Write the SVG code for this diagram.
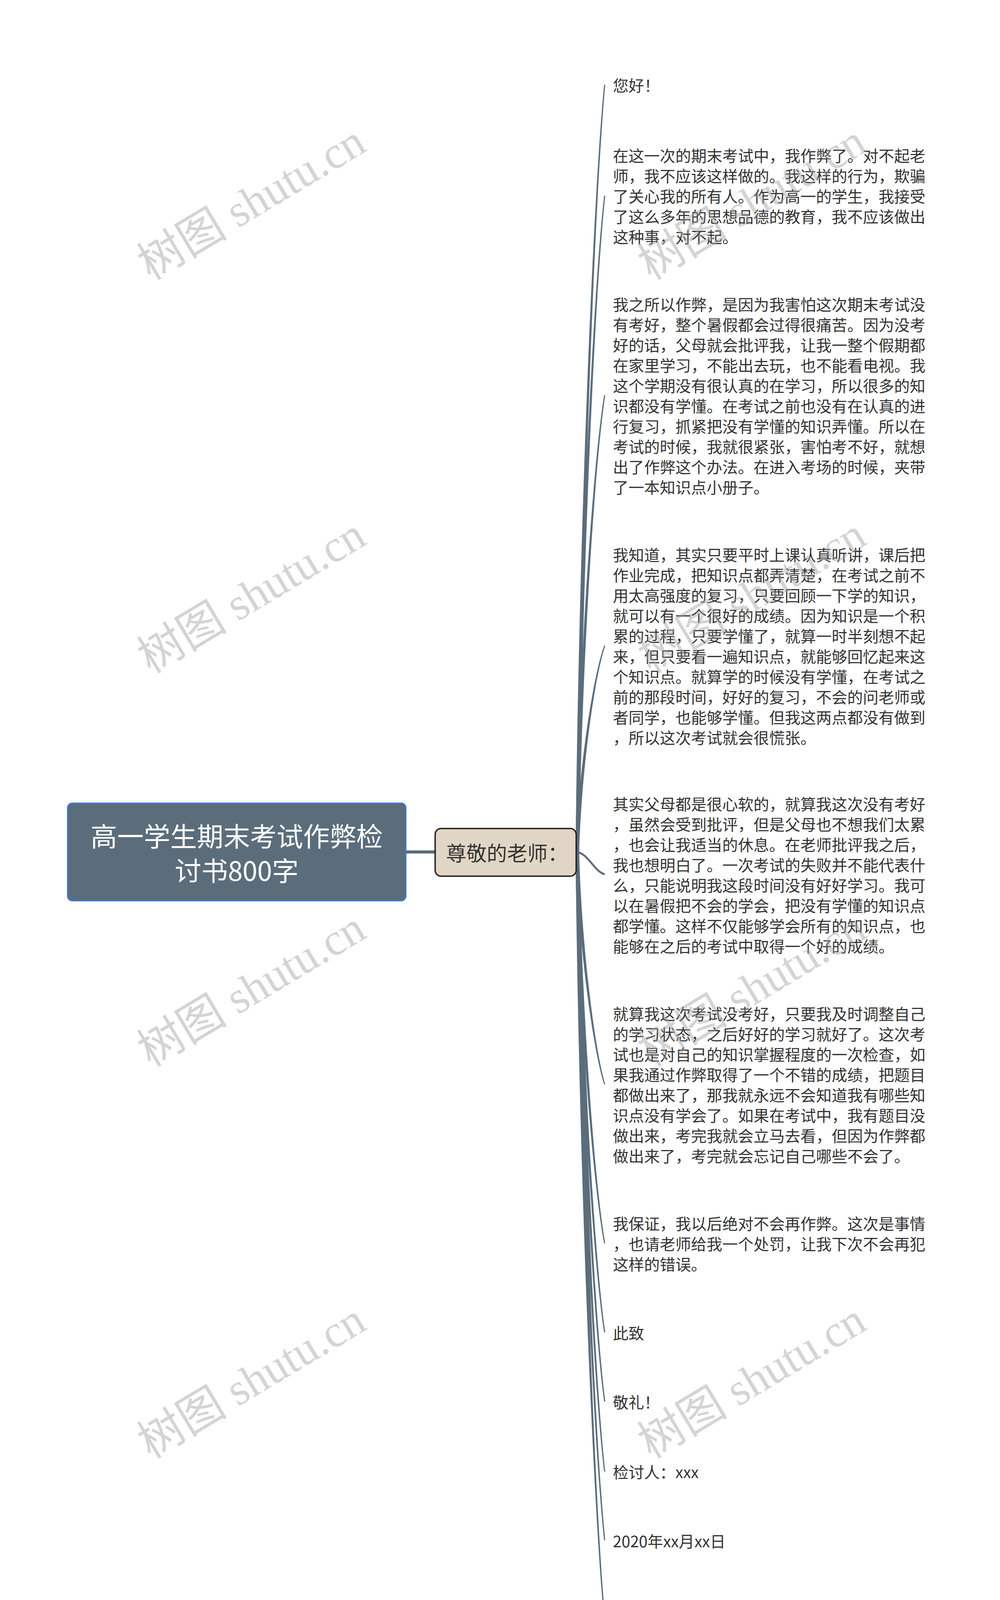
<svg xmlns="http://www.w3.org/2000/svg" width="2560" height="4389" viewBox="0 0 2560 4389">
<style>
.leaf{font-family:"Noto Sans CJK SC","Noto Sans",sans-serif;font-size:40px;fill:#333333;dominant-baseline:central}
.conn{fill:#5b6d7b;stroke:none}
.wm{font-family:"Liberation Serif","Noto Sans CJK SC",serif;font-size:116px;fill:#a0a0a0;fill-opacity:0.45;text-anchor:middle;dominant-baseline:central}
</style>
<rect width="2560" height="4389" fill="#ffffff"/>
<g id="connectors">
<path d="M1036 2181 L1116 2181" fill="none" stroke="#5b6d7b" stroke-width="8"/>
<path class="conn" d="M1473.5 2181 C1481.2 1395.4 1517.8 511.6 1546.5 217 L1549.5 217 C1522.2 511.6 1488.8 1395.4 1482.5 2181 Z"/>
<path class="conn" d="M1473.5 2181 C1481.2 1509 1517.8 753 1546.5 501 L1549.5 501 C1522.2 753 1488.8 1509 1482.5 2181 Z"/>
<path class="conn" d="M1473.5 2181 C1481.2 1713.4 1517.8 1187.4 1546.5 1012 L1549.5 1012 C1522.2 1187.4 1488.8 1713.4 1482.5 2181 Z"/>
<path class="conn" d="M1473.5 2181 C1481.2 1969.8 1517.8 1732.2 1546.5 1653 L1549.5 1653 C1522.2 1732.2 1488.8 1969.8 1482.5 2181 Z"/>
<path d="M1476 2181 C1505 2184 1522 2232 1548 2238" fill="none" stroke="#5b6d7b" stroke-width="5"/>
<path class="conn" d="M1473.5 2181 C1481.2 2419 1517.8 2686.8 1546.5 2776 L1549.5 2776 C1522.2 2686.8 1488.8 2419 1482.5 2181 Z"/>
<path class="conn" d="M1473.5 2181 C1481.2 2581.8 1517.8 3032.7 1546.5 3183 L1549.5 3183 C1522.2 3032.7 1488.8 2581.8 1482.5 2181 Z"/>
<path class="conn" d="M1473.5 2181 C1481.2 2673 1517.8 3226.5 1546.5 3411 L1549.5 3411 C1522.2 3226.5 1488.8 2673 1482.5 2181 Z"/>
<path class="conn" d="M1473.5 2181 C1481.2 2743.8 1517.8 3377 1546.5 3588 L1549.5 3588 C1522.2 3377 1488.8 2743.8 1482.5 2181 Z"/>
<path class="conn" d="M1473.5 2181 C1481.2 2815.4 1517.8 3529.1 1546.5 3767 L1549.5 3767 C1522.2 3529.1 1488.8 2815.4 1482.5 2181 Z"/>
<path class="conn" d="M1473.5 2181 C1481.2 2885.8 1517.8 3678.7 1546.5 3943 L1549.5 3943 C1522.2 3678.7 1488.8 2885.8 1482.5 2181 Z"/>
<path class="conn" d="M1473.5 2181 C1481.2 2967 1517.8 3851.3 1546.5 4146 L1549.5 4146 C1522.2 3851.3 1488.8 2967 1482.5 2181 Z"/>
</g>
<g id="root">
<rect x="173" y="2056" width="866" height="250" rx="12" fill="#5b6d7b" stroke="#3b7bd4" stroke-width="3"/>
<text x="606" y="2137" font-family="Noto Sans CJK SC, Noto Sans, sans-serif" font-size="68" fill="#ffffff" text-anchor="middle" dominant-baseline="central">高一学生期末考试作弊检</text>
<text x="606" y="2225" font-family="Noto Sans CJK SC, Noto Sans, sans-serif" font-size="68" fill="#ffffff" text-anchor="middle" dominant-baseline="central">讨书800字</text>
</g>
<g id="n-teacher">
<rect x="1114" y="2121" width="361" height="122" rx="15" fill="#e1d6c5" stroke="#1e1e1e" stroke-width="3.5"/>
<text x="1142" y="2181" font-family="Noto Sans CJK SC, Noto Sans, sans-serif" font-size="52" fill="#333333" dominant-baseline="central">尊敬的老师：</text>
</g>
<g id="leaf1"><text class="leaf" x="1569" y="217">您好！</text></g>
<g id="leaf2"><text class="leaf" x="1569" y="397"><tspan x="1569" dy="0">在这一次的期末考试中，我作弊了。对不起老</tspan><tspan x="1569" dy="52">师，我不应该这样做的。我这样的行为，欺骗</tspan><tspan x="1569" dy="52">了关心我的所有人。作为高一的学生，我接受</tspan><tspan x="1569" dy="52">了这么多年的思想品德的教育，我不应该做出</tspan><tspan x="1569" dy="52">这种事，对不起。</tspan></text></g>
<g id="leaf3"><text class="leaf" x="1569" y="778"><tspan x="1569" dy="0">我之所以作弊，是因为我害怕这次期末考试没</tspan><tspan x="1569" dy="52">有考好，整个暑假都会过得很痛苦。因为没考</tspan><tspan x="1569" dy="52">好的话，父母就会批评我，让我一整个假期都</tspan><tspan x="1569" dy="52">在家里学习，不能出去玩，也不能看电视。我</tspan><tspan x="1569" dy="52">这个学期没有很认真的在学习，所以很多的知</tspan><tspan x="1569" dy="52">识都没有学懂。在考试之前也没有在认真的进</tspan><tspan x="1569" dy="52">行复习，抓紧把没有学懂的知识弄懂。所以在</tspan><tspan x="1569" dy="52">考试的时候，我就很紧张，害怕考不好，就想</tspan><tspan x="1569" dy="52">出了作弊这个办法。在进入考场的时候，夹带</tspan><tspan x="1569" dy="52">了一本知识点小册子。</tspan></text></g>
<g id="leaf4"><text class="leaf" x="1569" y="1419"><tspan x="1569" dy="0">我知道，其实只要平时上课认真听讲，课后把</tspan><tspan x="1569" dy="52">作业完成，把知识点都弄清楚，在考试之前不</tspan><tspan x="1569" dy="52">用太高强度的复习，只要回顾一下学的知识，</tspan><tspan x="1569" dy="52">就可以有一个很好的成绩。因为知识是一个积</tspan><tspan x="1569" dy="52">累的过程，只要学懂了，就算一时半刻想不起</tspan><tspan x="1569" dy="52">来，但只要看一遍知识点，就能够回忆起来这</tspan><tspan x="1569" dy="52">个知识点。就算学的时候没有学懂，在考试之</tspan><tspan x="1569" dy="52">前的那段时间，好好的复习，不会的问老师或</tspan><tspan x="1569" dy="52">者同学，也能够学懂。但我这两点都没有做到</tspan><tspan x="1569" dy="52">，所以这次考试就会很慌张。</tspan></text></g>
<g id="leaf5"><text class="leaf" x="1569" y="2057"><tspan x="1569" dy="0">其实父母都是很心软的，就算我这次没有考好</tspan><tspan x="1569" dy="52">，虽然会受到批评，但是父母也不想我们太累</tspan><tspan x="1569" dy="52">，也会让我适当的休息。在老师批评我之后，</tspan><tspan x="1569" dy="52">我也想明白了。一次考试的失败并不能代表什</tspan><tspan x="1569" dy="52">么，只能说明我这段时间没有好好学习。我可</tspan><tspan x="1569" dy="52">以在暑假把不会的学会，把没有学懂的知识点</tspan><tspan x="1569" dy="52">都学懂。这样不仅能够学会所有的知识点，也</tspan><tspan x="1569" dy="52">能够在之后的考试中取得一个好的成绩。</tspan></text></g>
<g id="leaf6"><text class="leaf" x="1569" y="2594"><tspan x="1569" dy="0">就算我这次考试没考好，只要我及时调整自己</tspan><tspan x="1569" dy="52">的学习状态，之后好好的学习就好了。这次考</tspan><tspan x="1569" dy="52">试也是对自己的知识掌握程度的一次检查，如</tspan><tspan x="1569" dy="52">果我通过作弊取得了一个不错的成绩，把题目</tspan><tspan x="1569" dy="52">都做出来了，那我就永远不会知道我有哪些知</tspan><tspan x="1569" dy="52">识点没有学会了。如果在考试中，我有题目没</tspan><tspan x="1569" dy="52">做出来，考完我就会立马去看，但因为作弊都</tspan><tspan x="1569" dy="52">做出来了，考完就会忘记自己哪些不会了。</tspan></text></g>
<g id="leaf7"><text class="leaf" x="1569" y="3131"><tspan x="1569" dy="0">我保证，我以后绝对不会再作弊。这次是事情</tspan><tspan x="1569" dy="52">，也请老师给我一个处罚，让我下次不会再犯</tspan><tspan x="1569" dy="52">这样的错误。</tspan></text></g>
<g id="leaf8"><text class="leaf" x="1569" y="3411">此致</text></g>
<g id="leaf9"><text class="leaf" x="1569" y="3588">敬礼！</text></g>
<g id="leaf10"><text class="leaf" x="1569" y="3767">检讨人：xxx</text></g>
<g id="leaf11"><text class="leaf" x="1569" y="3944">2020年xx月xx日</text></g>
<g id="leaf12"><text class="leaf" x="1569" y="4124"><tspan x="1569" dy="0">本文为树图网编辑原创文章，版权归树图网所</tspan><tspan x="1569" dy="52">有，未经授权杜绝转载，违者追究法律责任。</tspan></text></g>
<g id="watermarks">
<text class="wm" transform="translate(644 518) rotate(-31)">树图 shutu.cn</text>
<text class="wm" transform="translate(644 1525) rotate(-31)">树图 shutu.cn</text>
<text class="wm" transform="translate(644 2532) rotate(-31)">树图 shutu.cn</text>
<text class="wm" transform="translate(644 3535) rotate(-31)">树图 shutu.cn</text>
<text class="wm" transform="translate(644 4540) rotate(-31)">树图 shutu.cn</text>
<text class="wm" transform="translate(1925 518) rotate(-31)">树图 shutu.cn</text>
<text class="wm" transform="translate(1925 1525) rotate(-31)">树图 shutu.cn</text>
<text class="wm" transform="translate(1925 2532) rotate(-31)">树图 shutu.cn</text>
<text class="wm" transform="translate(1925 3535) rotate(-31)">树图 shutu.cn</text>
<text class="wm" transform="translate(1925 4540) rotate(-31)">树图 shutu.cn</text>
</g>
</svg>
